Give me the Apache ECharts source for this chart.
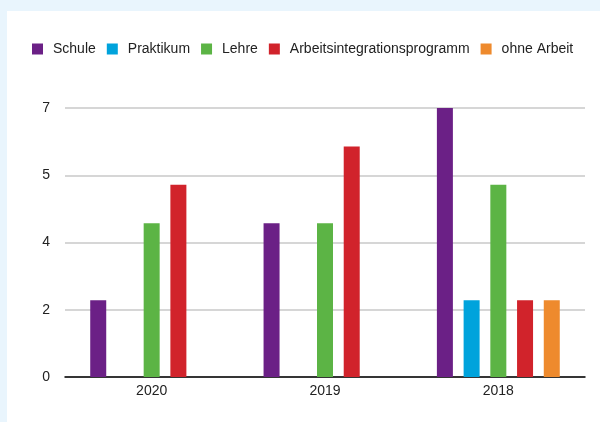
<!DOCTYPE html>
<html><head><meta charset="utf-8">
<script src="https://cdn.jsdelivr.net/npm/echarts@6/dist/echarts.min.js"></script>
<style>
html,body{margin:0;padding:0;width:600px;height:422px;background:#e9f5fd;overflow:hidden}
#c{position:absolute;left:7px;top:11px;width:593px;height:411px;background:#fff}
</style></head><body>
<div id="c"></div>
<script>
const categories = ['2020', '2019', '2018'];
const seriesNames = ['Schule', 'Praktikum', 'Lehre', 'Arbeitsintegrationsprogramm', 'ohne Arbeit'];
const schule = [2, 4, 7];
const praktikum = [null, null, 2];
const lehre = [4, 4, 5];
const arbeitsintegration = [5, 6, 2];
const ohneArbeit = [null, null, 2];
const colors = ['#6b2086', '#00a3dc', '#5cb445', '#d1232b', '#ee8a2d'];

const values = [schule, praktikum, lehre, arbeitsintegration, ohneArbeit];
const font = 'Liberation Sans, Arial, Helvetica, sans-serif';
const chart = echarts.init(document.getElementById('c'));
chart.setOption({
  animation: false,
  color: colors,
  legend: {
    left: 25, top: 31, padding: 0,
    itemWidth: 11, itemHeight: 11, itemGap: 11,
    icon: 'rect',
    textStyle: { fontFamily: font, fontSize: 14, color: '#222', padding: [0, 0, 0, 5] },
    data: seriesNames
  },
  grid: { left: 58, right: 15, top: 97, bottom: 45 },
  xAxis: {
    type: 'category', data: categories,
    axisLine: { lineStyle: { color: '#000', width: 1.5 } },
    axisTick: { show: false },
    axisLabel: { fontFamily: font, fontSize: 14, color: '#222', margin: 7 }
  },
  yAxis: {
    type: 'value', min: 0, max: 7, interval: 1.75,
    axisLine: { show: false }, axisTick: { show: false },
    splitLine: { lineStyle: { color: '#c8c8c8', width: 1.5 } },
    axisLabel: { fontFamily: font, fontSize: 14, color: '#222', margin: 15,
      formatter: v => String(Math.round(v)) }
  },
  series: seriesNames.map((n, i) => ({
    name: n, type: 'bar', data: values[i], barWidth: 16, barGap: '67%'
  }))
});
</script></body></html>
